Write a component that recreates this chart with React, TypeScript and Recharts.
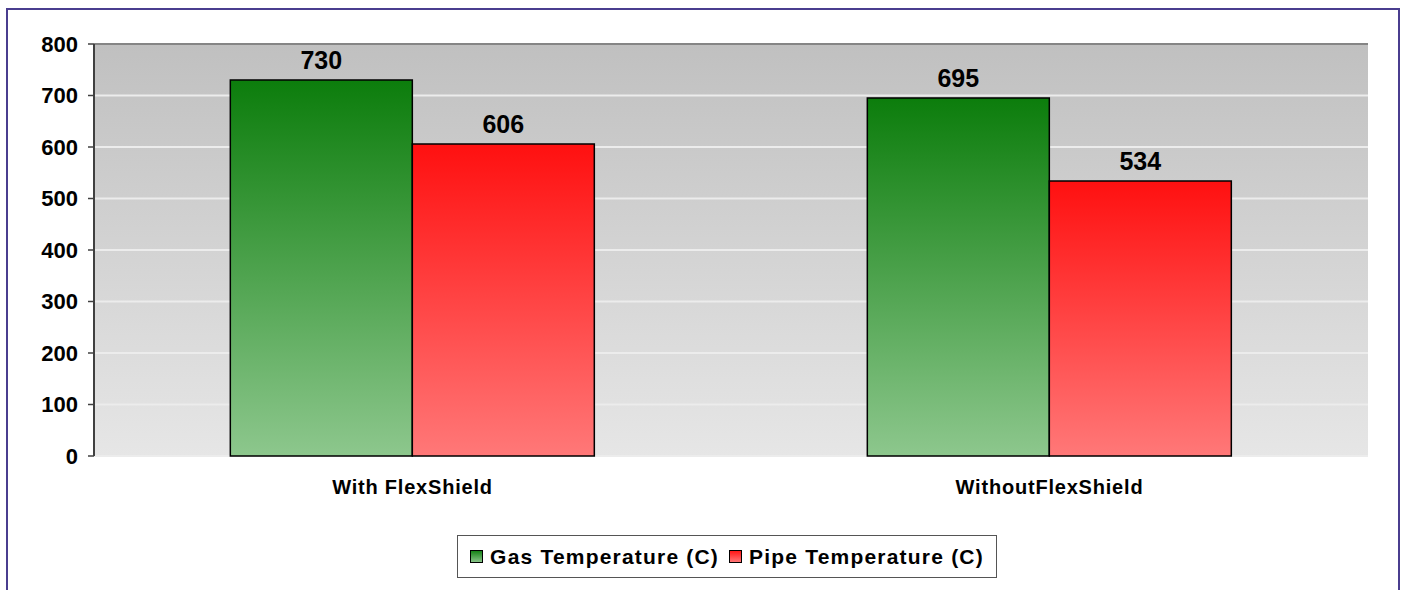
import {
  Bar,
  BarChart,
  CartesianGrid,
  LabelList,
  Legend,
  ReferenceLine,
  XAxis,
  YAxis,
} from "recharts";

const categories = ["With FlexShield", "WithoutFlexShield"];
const gasTemp = [730, 695];
const pipeTemp = [606, 534];
const yTicks = [0, 100, 200, 300, 400, 500, 600, 700, 800];

const data = categories.map((name, i) => ({
  name,
  gas: gasTemp[i],
  pipe: pipeTemp[i],
}));

const FONT = "'Liberation Sans', Arial, sans-serif";

const legendItems = [
  { label: "Gas Temperature (C)", fill: "url(#legGreen)" },
  { label: "Pipe Temperature (C)", fill: "url(#legRed)" },
];

function ChartLegend() {
  return (
    <div
      style={{
        boxSizing: "border-box",
        height: 43,
        width: 540,
        border: "1px solid #555",
        background: "#fff",
        display: "flex",
        alignItems: "center",
        justifyContent: "center",
        gap: 10,
        fontFamily: FONT,
        fontWeight: "bold",
        fontSize: 21,
        letterSpacing: 1.2,
        color: "#000",
      }}
    >
      <svg width={0} height={0} style={{ position: "absolute" }}>
        <defs>
          <linearGradient id="legGreen" x1="0" y1="0" x2="0" y2="1">
            <stop offset="0%" stopColor="#117f11" />
            <stop offset="100%" stopColor="#8dc78d" />
          </linearGradient>
          <linearGradient id="legRed" x1="0" y1="0" x2="0" y2="1">
            <stop offset="0%" stopColor="#ff1212" />
            <stop offset="100%" stopColor="#ff7a7a" />
          </linearGradient>
        </defs>
      </svg>
      {legendItems.map((it) => (
        <span key={it.label} style={{ display: "flex", alignItems: "center", whiteSpace: "nowrap" }}>
          <svg width={13} height={13} style={{ marginRight: 7 }}>
            <rect x={0.5} y={0.5} width={12} height={12} fill={it.fill} stroke="#000" strokeWidth={1} />
          </svg>
          {it.label}
        </span>
      ))}
    </div>
  );
}

export default function App() {
  return (
    <div
      style={{
        position: "absolute",
        left: 6,
        top: 8,
        width: 1390,
        height: 580,
        border: "2px solid #4a3d8f",
        background: "#fff",
      }}
    >
      <BarChart
        width={1390}
        height={580}
        data={data}
        margin={{ top: 34, right: 30, bottom: 41, left: 6 }}
        barCategoryGap="21.4%"
        barGap={0}
      >
        <defs>
          <linearGradient id="plotBg" x1="0" y1="0" x2="0" y2="1">
            <stop offset="0%" stopColor="#c0c0c0" />
            <stop offset="100%" stopColor="#e6e6e6" />
          </linearGradient>
          <linearGradient id="barGreen" x1="0" y1="0" x2="0" y2="1">
            <stop offset="0%" stopColor="#0c7d0c" />
            <stop offset="100%" stopColor="#8dc78d" />
          </linearGradient>
          <linearGradient id="barRed" x1="0" y1="0" x2="0" y2="1">
            <stop offset="0%" stopColor="#ff1010" />
            <stop offset="100%" stopColor="#ff7878" />
          </linearGradient>
        </defs>
        <CartesianGrid
          vertical={false}
          fill="url(#plotBg)"
          fillOpacity={1}
          stroke="#ececec"
          strokeWidth={2}
          yAxisId="left"
        />
        <XAxis
          xAxisId="edges"
          type="number"
          domain={[0, 2]}
          ticks={[0, 1, 2]}
          height={0}
          tick={() => <g />}
          tickSize={6}
          tickLine={{ stroke: "#404040", strokeWidth: 1.5 }}
          axisLine={{ stroke: "#404040", strokeWidth: 2 }}
        />
        <XAxis
          xAxisId="cat"
          dataKey="name"
          height={50}
          axisLine={false}
          tickLine={false}
          tickSize={6}
          tickMargin={18}
          tick={{ fontFamily: FONT, fontWeight: "bold", fontSize: 20, letterSpacing: 0.8, fill: "#000" }}
        />
        <YAxis
          yAxisId="left"
          width={80}
          domain={[0, 800]}
          ticks={yTicks}
          interval={0}
          tickSize={6}
          tickMargin={10}
          tickLine={{ stroke: "#404040", strokeWidth: 1.5 }}
          axisLine={{ stroke: "#404040", strokeWidth: 2 }}
          tick={{ fontFamily: FONT, fontWeight: "bold", fontSize: 22, fill: "#000" }}
        />
        <YAxis
          yAxisId="right"
          orientation="right"
          width={0}
          domain={[0, 800]}
          tick={false}
          tickLine={false}
          axisLine={{ stroke: "#8a8a8a", strokeWidth: 2 }}
        />
        <ReferenceLine yAxisId="left" xAxisId="cat" y={800} stroke="#858585" strokeWidth={2} />
        <Legend
          verticalAlign="bottom"
          content={() => <ChartLegend />}
          wrapperStyle={{ left: 449, top: 525, bottom: "auto", width: 540 }}
        />
        <Bar
          xAxisId="cat"
          yAxisId="left"
          dataKey="gas"
          name="Gas Temperature (C)"
          fill="url(#barGreen)"
          stroke="#000"
          strokeWidth={1.5}
          isAnimationActive={false}
        >
          <LabelList
            dataKey="gas"
            position="top"
            offset={11}
            style={{ fontFamily: FONT, fontWeight: "bold", fontSize: 25, fill: "#000" }}
          />
        </Bar>
        <Bar
          xAxisId="cat"
          yAxisId="left"
          dataKey="pipe"
          name="Pipe Temperature (C)"
          fill="url(#barRed)"
          stroke="#000"
          strokeWidth={1.5}
          isAnimationActive={false}
        >
          <LabelList
            dataKey="pipe"
            position="top"
            offset={11}
            style={{ fontFamily: FONT, fontWeight: "bold", fontSize: 25, fill: "#000" }}
          />
        </Bar>
      </BarChart>
    </div>
  );
}
